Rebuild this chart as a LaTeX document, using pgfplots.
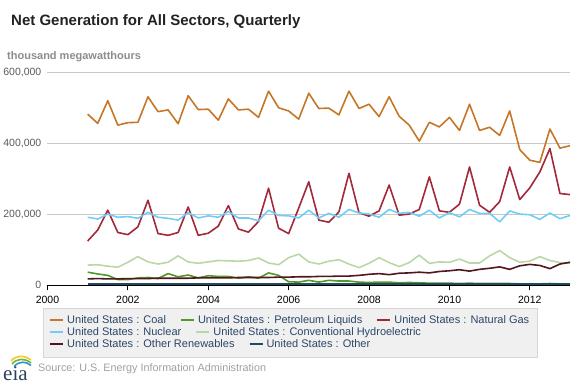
\documentclass[border=0pt]{standalone}
\usepackage{fontspec}
\setmainfont{Liberation Sans}
\newfontfamily\eiafont{Liberation Serif}
\usepackage{pgfplots}
\usepackage{pgfplotstable}
\pgfplotsset{compat=1.18}
\definecolor{coal}{RGB}{198,118,38}
\definecolor{petro}{RGB}{82,152,42}
\definecolor{gas}{RGB}{162,40,58}
\definecolor{nuc}{RGB}{112,206,246}
\definecolor{hydro}{RGB}{186,216,166}
\definecolor{renew}{RGB}{82,22,32}
\definecolor{other}{RGB}{32,76,96}
\definecolor{legtext}{RGB}{44,70,105}
\definecolor{gridc}{RGB}{200,200,200}
\definecolor{titlec}{RGB}{34,34,34}
\definecolor{unitc}{RGB}{140,140,140}
\definecolor{ytickc}{RGB}{90,90,90}
\definecolor{legfill}{RGB}{240,240,240}
\definecolor{legdraw}{RGB}{215,215,215}
\definecolor{srcc}{RGB}{160,160,160}
\definecolor{eiatext}{RGB}{45,65,95}
\definecolor{eiay}{RGB}{245,200,40}
\definecolor{eiag}{RGB}{110,180,60}
\definecolor{eiab}{RGB}{50,150,205}

\pgfplotstableread{
x coal petro gas nuc hydro renew other
2001.00 483000 37000 125000 192000 57000 18000 4000
2001.25 457000 32000 156000 187000 58000 19000 4000
2001.50 521000 28000 212000 201000 54000 18000 4000
2001.75 452000 16000 149000 192000 51000 18000 4000
2002.00 459000 16000 143000 194000 65000 19000 4000
2002.25 460000 21000 165000 189000 81000 19000 4000
2002.50 532000 22000 240000 206000 66000 19000 4000
2002.75 490000 19000 146000 192000 60000 20000 4000
2003.00 495000 33000 141000 189000 65000 20000 4000
2003.25 456000 24000 149000 184000 83000 20000 4000
2003.50 535000 29000 221000 205000 66000 20000 4000
2003.75 496000 21000 141000 190000 62000 21000 4000
2004.00 497000 27000 147000 196000 66000 21000 4000
2004.25 466000 25000 167000 192000 70000 21000 4000
2004.50 526000 25000 225000 208000 69000 21000 4000
2004.75 495000 20000 159000 190000 68000 22000 4000
2005.00 497000 24000 150000 190000 70000 22000 4000
2005.25 474000 20000 180000 182000 77000 22000 4000
2005.50 548000 35000 274000 212000 63000 22000 4000
2005.75 501000 28000 161000 197000 58000 23000 4000
2006.00 492000 10000 146000 196000 78000 23000 4000
2006.25 469000 9000 218000 190000 88000 24000 4000
2006.50 542000 14000 292000 212000 66000 24000 4000
2006.75 499000 9000 184000 190000 60000 25000 4000
2007.00 500000 14000 178000 203000 68000 25000 4000
2007.25 481000 12000 207000 192000 72000 26000 4000
2007.50 548000 12000 316000 214000 60000 26000 4000
2007.75 499000 9000 205000 204000 50000 28000 4000
2008.00 511000 8000 195000 201000 62000 31000 4000
2008.25 476000 9000 210000 192000 78000 33000 4000
2008.50 532000 9000 283000 214000 64000 30000 4000
2008.75 477000 7000 198000 203000 53000 34000 4000
2009.00 452000 8000 201000 206000 64000 35000 4000
2009.25 407000 7000 214000 195000 85000 37000 4000
2009.50 460000 6000 306000 212000 62000 35000 4000
2009.75 447000 6000 210000 190000 66000 39000 4000
2010.00 474000 6000 206000 205000 65000 41000 4000
2010.25 437000 5000 229000 193000 74000 44000 4000
2010.50 511000 6000 334000 214000 63000 40000 4000
2010.75 437000 5000 226000 203000 63000 45000 4000
2011.00 446000 5000 206000 203000 83000 48000 4000
2011.25 423000 5000 236000 179000 98000 52000 4000
2011.50 492000 5000 334000 210000 78000 45000 4000
2011.75 383000 4000 242000 201000 65000 55000 4000
2012.00 353000 4000 275000 199000 68000 59000 4000
2012.25 347000 4000 320000 186000 81000 56000 4000
2012.50 441000 5000 386000 204000 70000 47000 4000
2012.75 387000 4000 259000 188000 64000 60000 4000
2013.00 394000 4000 256000 197000 62000 65000 4000
}\datatable

\newcommand{\legsample}[1]{\textcolor{#1}{\rule[0.3em]{13pt}{1.6pt}}\hspace{4pt}}

\begin{document}
\begin{tikzpicture}
\useasboundingbox (0pt,0pt) rectangle (580pt,387pt);

\node[anchor=base west, inner sep=0, font=\fontsize{15}{18}\selectfont\bfseries, text=titlec] at (11pt,361.5pt) {Net Generation for All Sectors, Quarterly};
\node[anchor=base west, inner sep=0, font=\fontsize{11}{13}\selectfont\bfseries, text=unitc] at (7pt,327pt) {thousand megawatthours};

\begin{axis}[
  at={(47.5pt,101.7pt)}, anchor=south west,
  scale only axis, width=522.5pt, height=212.6pt,
  xmin=2000, xmax=2013, ymin=0, ymax=600000,
  axis x line=bottom, axis y line=left,
  x axis line style={-, black, line width=1.3pt},
  y axis line style={draw=none},
  xtick={2000,2002,...,2012},
  ytick={0,200000,400000,600000},
  tick align=outside,
  major tick length=5pt,
  xtick style={black, line width=0.8pt},
  ytick style={draw=none},
  ymajorgrids,
  grid style={draw=gridc, line width=0.9pt},
  scaled y ticks=false,
  yticklabel style={/pgf/number format/.cd, fixed, 1000 sep={,}, assume math mode=true, /tikz/.cd, font=\fontsize{10.5}{12}\selectfont, text=ytickc, inner sep=1pt},
  xticklabel style={/pgf/number format/.cd, fixed, 1000 sep={}, assume math mode=true, /tikz/.cd, font=\fontsize{10.5}{12}\selectfont, text=black, yshift=-2.5pt},
  every axis plot/.append style={line width=1.6pt, no markers, line join=round},
  clip=false,
]
\addplot[coal] table[x=x, y=coal] {\datatable};
\addplot[petro] table[x=x, y=petro] {\datatable};
\addplot[gas] table[x=x, y=gas] {\datatable};
\addplot[nuc] table[x=x, y=nuc] {\datatable};
\addplot[hydro] table[x=x, y=hydro] {\datatable};
\addplot[renew] table[x=x, y=renew] {\datatable};
\addplot[other] table[x=x, y=other] {\datatable};
\end{axis}

% legend box
\draw[draw=legdraw, fill=legfill] (43pt,30pt) rectangle (537pt,79pt);
\begin{scope}[every node/.style={anchor=base west, inner sep=0, text=legtext, font=\fontsize{11}{12}\selectfont}]
\node at (50pt,63pt) {\legsample{coal}United States : Coal\hspace{15pt}\legsample{petro}United States : Petroleum Liquids\hspace{15pt}\legsample{gas}United States : Natural Gas};
\node at (50pt,51pt) {\legsample{nuc}United States : Nuclear\hspace{15pt}\legsample{hydro}United States : Conventional Hydroelectric};
\node at (50pt,39pt) {\legsample{renew}United States : Other Renewables\hspace{15pt}\legsample{other}United States : Other};
\end{scope}

% source
\node[anchor=base west, inner sep=0, font=\fontsize{10.8}{12}\selectfont, text=srcc] at (38pt,15pt) {Source: U.S. Energy Information Administration};

% eia logo
\node[anchor=base west, inner sep=0, font=\eiafont\fontsize{21}{22}\selectfont, text=eiatext] at (3pt,6pt) {eia};
\draw[line width=1.6pt, eiay] (11pt,26pt) .. controls (16pt,32pt) and (24pt,32pt) .. (31pt,27pt);
\draw[line width=1.6pt, eiag] (12pt,23pt) .. controls (17pt,29pt) and (25pt,29pt) .. (31pt,24pt);
\draw[line width=1.6pt, eiab] (14pt,20.5pt) .. controls (19pt,26pt) and (26pt,26pt) .. (31pt,21.5pt);
\end{tikzpicture}
\end{document}
